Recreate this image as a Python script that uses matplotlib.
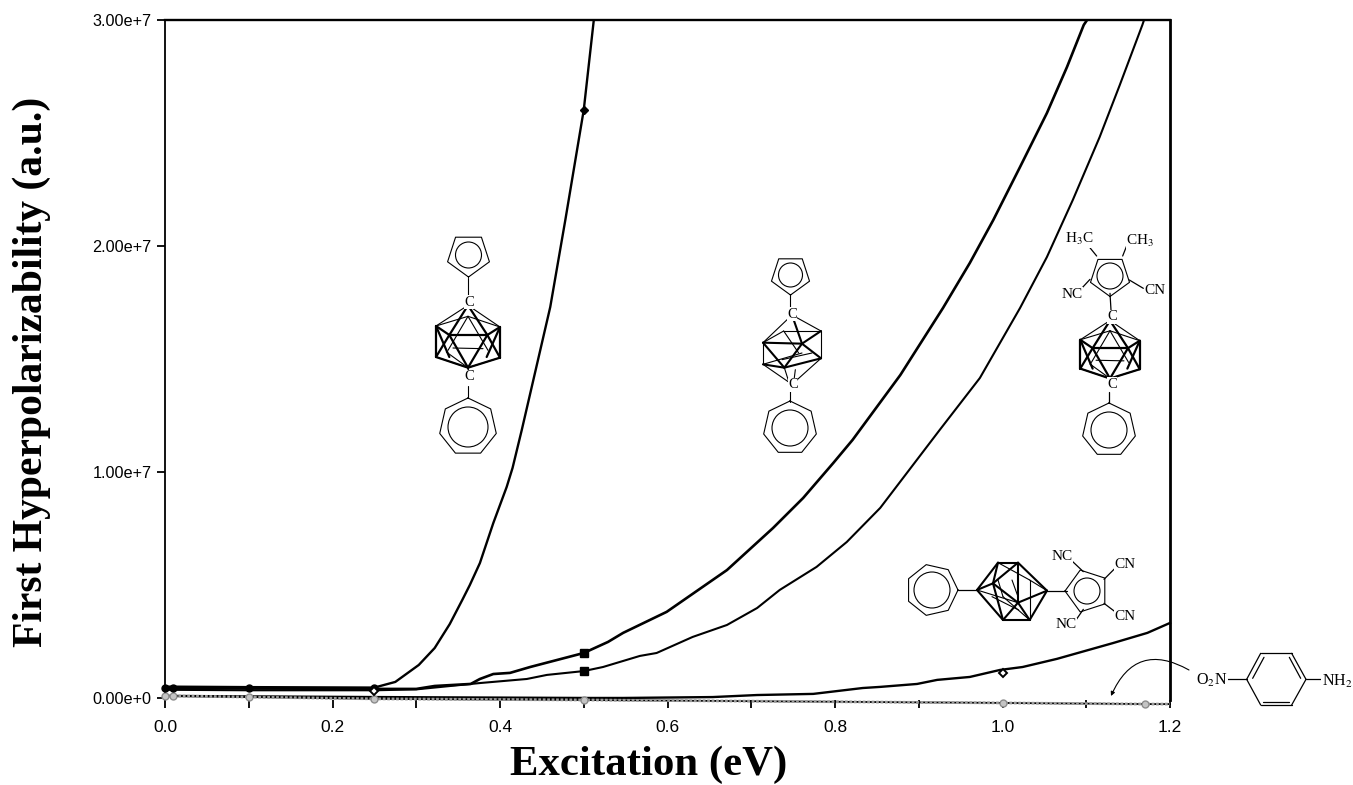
import numpy as np
import matplotlib
matplotlib.use('Agg')
import matplotlib.pyplot as plt
from matplotlib.patches import Circle, FancyArrowPatch

plt.rcParams['font.family'] = ['Liberation Sans', 'DejaVu Sans']
plt.rcParams['mathtext.fontset'] = 'stix'

# excitation in eV, hyperpolarizability in units of 1e6 a.u.
x_a = [0, 0.01, 0.1, 0.25, 0.275, 0.303, 0.322, 0.34, 0.355, 0.364, 0.376, 0.392, 0.408, 0.415, 0.426, 0.439, 0.46, 0.478, 0.5, 0.512]
y_a = [0.5, 0.5, 0.48, 0.46, 0.71, 1.46, 2.21, 3.27, 4.34, 5.0, 5.97, 7.74, 9.34, 10.18, 11.86, 13.94, 17.3, 21.15, 26.02, 30.0]

x_b = [0, 0.01, 0.1, 0.25, 0.3, 0.322, 0.365, 0.376, 0.392, 0.412, 0.436, 0.5, 0.529, 0.547, 0.599, 0.671, 0.726, 0.762,
       0.798, 0.821, 0.878, 0.929, 0.961, 0.989, 1.021, 1.053, 1.077, 1.097, 1.101]
y_b = [0.44, 0.44, 0.42, 0.4, 0.4, 0.53, 0.62, 0.84, 1.06, 1.11, 1.37, 1.99, 2.48, 2.88, 3.81, 5.66, 7.52, 8.85,
       10.4, 11.42, 14.29, 17.26, 19.25, 21.15, 23.5, 25.88, 27.92, 29.78, 30.0]

x_c = [0, 0.01, 0.1, 0.25, 0.3, 0.376, 0.432, 0.456, 0.5, 0.523, 0.567, 0.587, 0.63, 0.671, 0.707, 0.734, 0.778, 0.814,
       0.854, 0.925, 0.973, 1.021, 1.053, 1.084, 1.116, 1.14, 1.167, 1.169]
y_c = [0.36, 0.36, 0.34, 0.34, 0.38, 0.66, 0.84, 1.02, 1.19, 1.37, 1.86, 1.99, 2.7, 3.23, 3.98, 4.78, 5.8, 6.9,
       8.41, 11.86, 14.16, 17.26, 19.51, 22.04, 24.82, 27.12, 29.78, 30.0]

x_d = [0, 0.25, 0.5, 0.547, 0.654, 0.707, 0.774, 0.833, 0.854, 0.898, 0.922, 0.961, 0.997, 1.024, 1.065, 1.132, 1.173, 1.2]
y_d = [0.09, 0.04, 0, 0, 0.04, 0.13, 0.18, 0.44, 0.49, 0.62, 0.8, 0.93, 1.24, 1.37, 1.73, 2.43, 2.88, 3.32]

x_e = [0, 0.01, 0.1, 0.25, 0.5, 1.0, 1.17, 1.2]
y_e = [0.09, 0.09, 0.04, -0.04, -0.09, -0.22, -0.27, -0.27]

# measured points that carry a symbol
pts_x = [0, 0.01, 0.1, 0.25]
pts_y = [0.46, 0.46, 0.44, 0.44]
x_a_pt, y_a_pt = [0.5], [26.02]
x_sq = [0.5, 0.5]
y_sq = [1.99, 1.19]
x_open = [0.25, 1.0]
y_open = [0.31, 1.1]

xticks = [0.0, 0.2, 0.4, 0.6, 0.8, 1.0, 1.2]
yticks = [0, 1e7, 2e7, 3e7]
ylabels = ['0.00e+0', '1.00e+7', '2.00e+7', '3.00e+7']

W, H = 1353, 785
fig = plt.figure(figsize=(W/100, H/100), dpi=100)
ax = fig.add_axes([165/W, 85/H, 1005/W, 680/H])


def up(vals):
    return np.array(vals)*1e6


ax.plot(x_e, up(y_e), color='k', lw=1.3, clip_on=False, zorder=2)
ax.plot(x_e, up(y_e), color='#999999', lw=2, ls=(0, (1, 0.6)), clip_on=False, zorder=3)
ax.plot(x_e[:-1], up(y_e[:-1]), ls='none', marker='o', ms=5, mfc='#c4c4c4', mec='#8c8c8c', mew=1, clip_on=False, zorder=4)
ax.plot(x_d, up(y_d), color='k', lw=1.7, clip_on=False, zorder=2)
ax.plot(x_c, up(y_c), color='k', lw=1.5, zorder=5)
ax.plot(x_b, up(y_b), color='k', lw=1.9, zorder=5)
ax.plot(x_a, up(y_a), color='k', lw=1.7, zorder=5)
ax.plot(pts_x, up(pts_y), ls='none', marker='o', ms=5, color='k', clip_on=False, zorder=6)
ax.plot(x_a_pt, up(y_a_pt), ls='none', marker='D', ms=4.5, color='k', zorder=6)
ax.plot(x_sq, up(y_sq), ls='none', marker='s', ms=5.5, color='k', zorder=6)
ax.plot(x_open, up(y_open), ls='none', marker='D', ms=4.5, mfc='w', mec='k', mew=1.4, zorder=6)

ax.set_xlim(0, 1.2)
ax.set_ylim(-0.09e6, 3e7)
ax.set_xticks(xticks)
ax.set_xticklabels(['%.1f' % v for v in xticks])
ax.set_xticks(np.arange(1, 12, 2)/10, minor=True)
ax.set_yticks(yticks)
ax.set_yticklabels(ylabels)
ax.tick_params(axis='x', which='both', length=5.5, width=1.3, pad=9, labelsize=12.5)
ax.tick_params(axis='y', length=5.8, width=1.3, pad=4, labelsize=11.7)
ax.spines['bottom'].set_visible(False)
ax.spines['left'].set_linewidth(1.3)
ax.spines['top'].set_linewidth(1.7)
ax.spines['right'].set_linewidth(2)

ax.set_xlabel('Excitation (eV)', family='Liberation Serif', weight='bold', size=30.8)
ax.xaxis.set_label_coords((649-165)/1005, -65/680, transform=ax.transAxes)
ax.set_ylabel('First Hyperpolarizability (a.u.)', family='Liberation Serif', weight='bold', size=30)
ax.yaxis.set_label_coords(-133/1005, (700-372)/680, transform=ax.transAxes)
ax.xaxis.label.set_va('center')
ax.yaxis.label.set_va('center')

# overlay in image pixels for the molecule sketches
mol = fig.add_axes([0, 0, 1, 1], facecolor='none', zorder=10)
mol.set_xlim(0, W)
mol.set_ylim(H, 0)
mol.axis('off')


def ring(cx, cy, r, n, start, inner):
    ang = np.radians(start) + 2*np.pi*np.arange(n + 1)/n
    mol.plot(cx + r*np.cos(ang), cy + r*np.sin(ang), color='k', lw=0.8)
    mol.add_patch(Circle((cx, cy), inner, fill=False, ec='k', lw=0.8))


def segs(lines, ox, oy, scale, lw):
    for (x0, y0, x1, y1) in lines:
        mol.plot([ox + x0*scale, ox + x1*scale], [oy + y0*scale, oy + y1*scale], color='k', lw=lw, solid_capstyle='round')


def label(x, y, s, size=11):
    mol.text(x, y, s, family='Liberation Serif', size=size, ha='center', va='center',
             bbox=dict(fc='w', ec='none', pad=0.3), zorder=12)


# cages drawn around their own centre, in zoomed crop units (1/3 px)
cage_a_thick = [(-56, -6, 58, -6), (-56, -6, 0, 92), (58, -6, 0, 92), (-96, -33, -56, -6), (96, -30, 58, -6),
                (-96, 60, -56, -6), (96, 62, 58, -6), (-96, 60, 0, 92), (96, 62, 0, 92), (-96, -33, -96, 60),
                (96, -30, 96, 62), (0, -95, -56, -6), (0, -95, 58, -6), (-96, -33, -56, 60), (96, -30, 56, 60)]
cage_a_thin = [(0, -95, -96, -33), (0, -95, 96, -30), (0, 92, -96, 60), (0, 92, 96, 62), (0, -62, -60, 40), (0, -62, 60, 40),
               (-96, -33, 0, -62), (96, -30, 0, -62), (-45, 33, 45, 35), (-65, 45, 0, 92), (0, 92, 3, 115), (3, 115, 0, 92)]
cage_b_thick = [(-87, -1, 30, 2), (30, 2, 87, -36), (30, 2, 87, 46), (30, 2, -23, 74), (-87, -1, -23, 74), (-87, 64, -23, 74),
                (-23, 74, 87, 46), (0, -84, 30, 2)]
cage_b_thin = [(0, -84, -87, -1), (0, -84, 87, -36), (-87, -1, -87, 64), (87, -36, 87, 46), (-87, 64, 0, 124), (87, 46, 0, 124),
               (-25, -36, 40, -36), (40, -36, 87, -36), (-25, -36, -87, -1), (-25, -36, 20, 30), (-87, 64, 30, 30),
               (-30, 50, 60, 30), (-23, 74, -10, 115), (10, 80, 5, 120)]
cage_d_thick = [(-105, 0, -42, -82), (-42, -82, 18, -82), (18, -82, 105, 2), (105, 2, 53, 90), (53, 90, -27, 90),
                (-27, 90, -105, 0), (-57, -20, 18, 38), (-57, -20, -42, -82), (-57, -20, 18, -82), (-57, -20, -105, 0),
                (-57, -20, -27, 90), (18, 38, 18, -82), (18, 38, 105, 2), (18, 38, -27, 90), (18, 38, 53, 90)]
cage_d_thin = [(-105, 0, 18, 38), (-42, -82, 53, -30), (53, -30, 105, 2), (53, -30, 53, 90), (-42, -30, -27, 20),
               (-27, 20, 53, 90), (-60, 20, 20, 60), (0, -30, 18, 20)]

# first molecule
ring(468.5, 255, 22, 5, 90, 13)
ring(468, 427, 29, 7, -90, 20)
segs([(0, -5, 0, 12)], 468, 283, 1, 0.8)
segs([(0, -6, 0, 6)], 468, 392, 1, 0.8)
segs(cage_a_thick, 468, 337, 1/3, 1.6)
segs(cage_a_thin, 468, 337, 1/3, 0.8)
label(469, 302, 'C', 10.5)
label(469, 377, 'C', 10.5)

# second molecule
ring(790.5, 275, 20, 5, 90, 12)
ring(790, 428, 27, 7, -90, 18)
segs([(0, -8, 0, 6)], 790, 302, 1, 0.8)
segs([(0, -6, 0, 6)], 790, 396, 1, 0.8)
segs(cage_b_thick, 792, 343, 1/3, 1.5)
segs(cage_b_thin, 792, 343, 1/3, 0.8)
label(792, 314, 'C', 10.5)
label(793, 385, 'C', 10.5)

# third molecule
ring(1110, 276, 20.5, 5, 90, 13)
ring(1109, 430, 27, 7, -90, 18)
segs(cage_a_thick, 1110, 350, 0.31, 1.6)
segs(cage_a_thin, 1110, 350, 0.31, 0.8)
segs([(200, 108, 165, 65), (278, 108, 295, 65), (180, 178, 155, 205), (298, 180, 340, 205), (240, 220, 243, 270),
      (238, 515, 238, 550)], 1030, 220, 1/3, 0.9)
label(1112, 317, 'C', 10.5)
label(1112, 384, 'C', 10.5)
label(1079, 239, 'H$_3$C')
label(1140, 241, 'CH$_3$')
label(1072, 294, 'NC')
label(1155, 291, 'CN')

# fourth molecule, lying on its side
ring(932, 590, 26, 7, 0, 18)
ring(1087, 591, 22, 5, 180, 13)
segs([(325, 150, 382, 150), (592, 152, 650, 152), (700, 95, 665, 62), (762, 118, 795, 85), (762, 190, 795, 215),
      (700, 208, 678, 240)], 850, 540, 1/3, 0.9)
segs(cage_d_thick, 1012, 590, 1/3, 1.5)
segs(cage_d_thin, 1012, 590, 1/3, 0.8)
label(1062, 556, 'NC')
label(1125, 565, 'CN')
label(1125, 617, 'CN')
label(1066, 625, 'NC')

# p-nitroaniline
hex_pts = [(1190, 418), (1232, 340), (1325, 340), (1368, 418), (1325, 495), (1232, 495), (1190, 418)]
segs([hex_pts[i] + hex_pts[i + 1] for i in range(6)], 850, 540, 1/3, 0.9)
segs([(1208, 415, 1242, 352), (1240, 485, 1318, 485), (1318, 352, 1352, 415), (1130, 418, 1190, 418), (1368, 418, 1415, 418)],
     850, 540, 1/3, 0.9)
label(1212, 680, 'O$_2$N', 11.5)
label(1337, 681, 'NH$_2$', 11.5)
mol.add_patch(FancyArrowPatch((1189, 670), (1111, 696), connectionstyle='arc3,rad=0.55', arrowstyle='-|>',
                              mutation_scale=6, lw=0.8, color='k', shrinkA=0, shrinkB=0))

fig.savefig('out.png', dpi=100)
